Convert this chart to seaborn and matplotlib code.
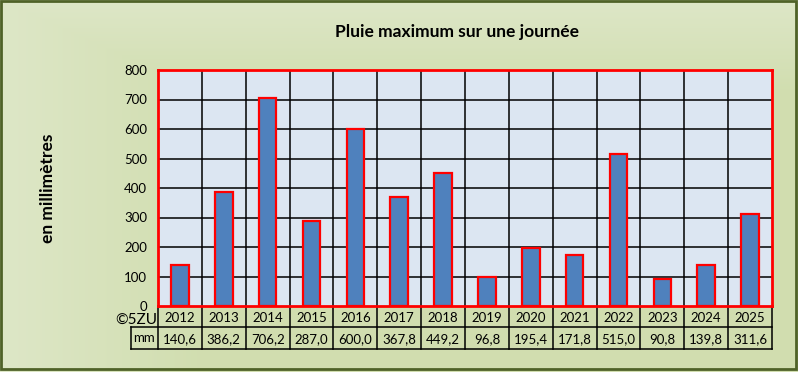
import numpy as np
import pandas as pd
import matplotlib
matplotlib.use("Agg")
import matplotlib.pyplot as plt
import seaborn as sns
from matplotlib.patches import Rectangle

years = ["2012", "2013", "2014", "2015", "2016", "2017", "2018", "2019", "2020", "2021", "2022", "2023", "2024", "2025"]
values = [140.6, 386.2, 706.2, 287.0, 600.0, 367.8, 449.2, 96.8, 195.4, 171.8, 515.0, 90.8, 139.8, 311.6]
yticks = [0, 100, 200, 300, 400, 500, 600, 700, 800]
title = "Pluie maximum sur une journée"
ylabel = "en millimètres"
row_label = "mm"
credit = "©5ZU"

sns.set_theme(style="white")
plt.rcParams['font.family'] = ['Lato', 'DejaVu Sans']
plt.rcParams['text.color'] = 'black'
plt.rcParams['ytick.color'] = 'black'
plt.rcParams['ytick.labelcolor'] = 'black'

W, H = 798, 372
fig = plt.figure(figsize=(W / 100, H / 100), dpi=100)

# background gradient
bg = fig.add_axes([0, 0, 1, 1])
xs = np.linspace(0, W, W)
ys = np.linspace(0, H, H)
X, Y = np.meshgrid(xs, ys)
t = np.minimum(np.clip(X / 200, 0, 1), np.clip(Y / 90, 0, 1))
t = np.clip(0.3 + 0.7 * t, 0, 1)
light = np.array([0.89, 0.92, 0.82])
dark = np.array([0.82, 0.87, 0.69])
img = light[None, None, :] * (1 - t[..., None]) + dark[None, None, :] * t[..., None]
bg.imshow(img, extent=[0, W, H, 0], aspect='auto')
bg.set_xlim(0, W)
bg.set_ylim(H, 0)
bg.axis('off')
bg.add_patch(Rectangle((1, 1), W - 3, H - 4.5, fill=False, edgecolor='#4f6228', linewidth=2.0))

# plot axes
x0, x1, y0, y1 = 158, 772, 70, 306
ax = fig.add_axes([x0 / W, 1 - y1 / H, (x1 - x0) / W, (y1 - y0) / H])
df = pd.DataFrame({"year": years, "mm": values})
sns.barplot(data=df, x="year", y="mm", ax=ax, color="#4f81bd", edgecolor="red",
            linewidth=1.6, width=0.4, saturation=1)
ax.set_facecolor("#dce6f2")
ax.set_ylim(0, 800)
ax.set_xlim(-0.5, len(years) - 0.5)
ax.set_yticks(yticks)
ax.set_yticklabels([str(v) for v in yticks], fontsize=9.5, color="black")
ax.set_xticks([])
ax.set_xlabel("")
ax.set_ylabel("")
for y in yticks[1:-1]:
    ax.axhline(y, color="black", linewidth=1.1, zorder=0.5)
for i in range(1, len(years)):
    ax.axvline(i - 0.5, color="black", linewidth=1.1, zorder=0.5)
for s in ax.spines.values():
    s.set_color("red")
    s.set_linewidth(2)
    s.set_zorder(5)
ax.tick_params(axis='y', length=0, pad=8)

# titles
fig.text(457 / W, 1 - 32 / H, title, ha="center", va="center", fontsize=12.5, fontweight="bold", color="black")
fig.text(48 / W, 1 - 188 / H, ylabel, ha="center", va="center", rotation=90, fontsize=12.5, fontweight="bold", color="black")
fig.text(136 / W, 1 - 320 / H, credit, ha="center", va="center", fontsize=11, color="black")

# data table
r1, r2 = 327, 349
n = len(years)
colw = (x1 - x0) / n
lw = 1.1
def hline(y, xa, xb):
    bg.plot([xa, xb], [y, y], color="black", linewidth=lw, solid_capstyle='projecting')
def vline(x, ya, yb):
    bg.plot([x, x], [ya, yb], color="black", linewidth=lw, solid_capstyle='projecting')
hline(r1, 131, x1)
hline(r2, 131, x1)
for i in range(n + 1):
    vline(x0 + i * colw, y1, r2)
vline(131, r1, r2)
for i in range(n):
    cx = x0 + (i + 0.5) * colw
    bg.text(cx, (y1 + r1) / 2 + 1, years[i], ha="center", va="center", fontsize=9.5, color="black")
    bg.text(cx, (r1 + r2) / 2 + 1, f"{values[i]:.1f}".replace(".", ","), ha="center", va="center", fontsize=9.5, color="black")
bg.text((131 + x0) / 2, (r1 + r2) / 2, row_label, ha="center", va="center", fontsize=9.5, color="black")
bg.set_xlim(0, W)
bg.set_ylim(H, 0)

fig.savefig("out.png", dpi=100)
